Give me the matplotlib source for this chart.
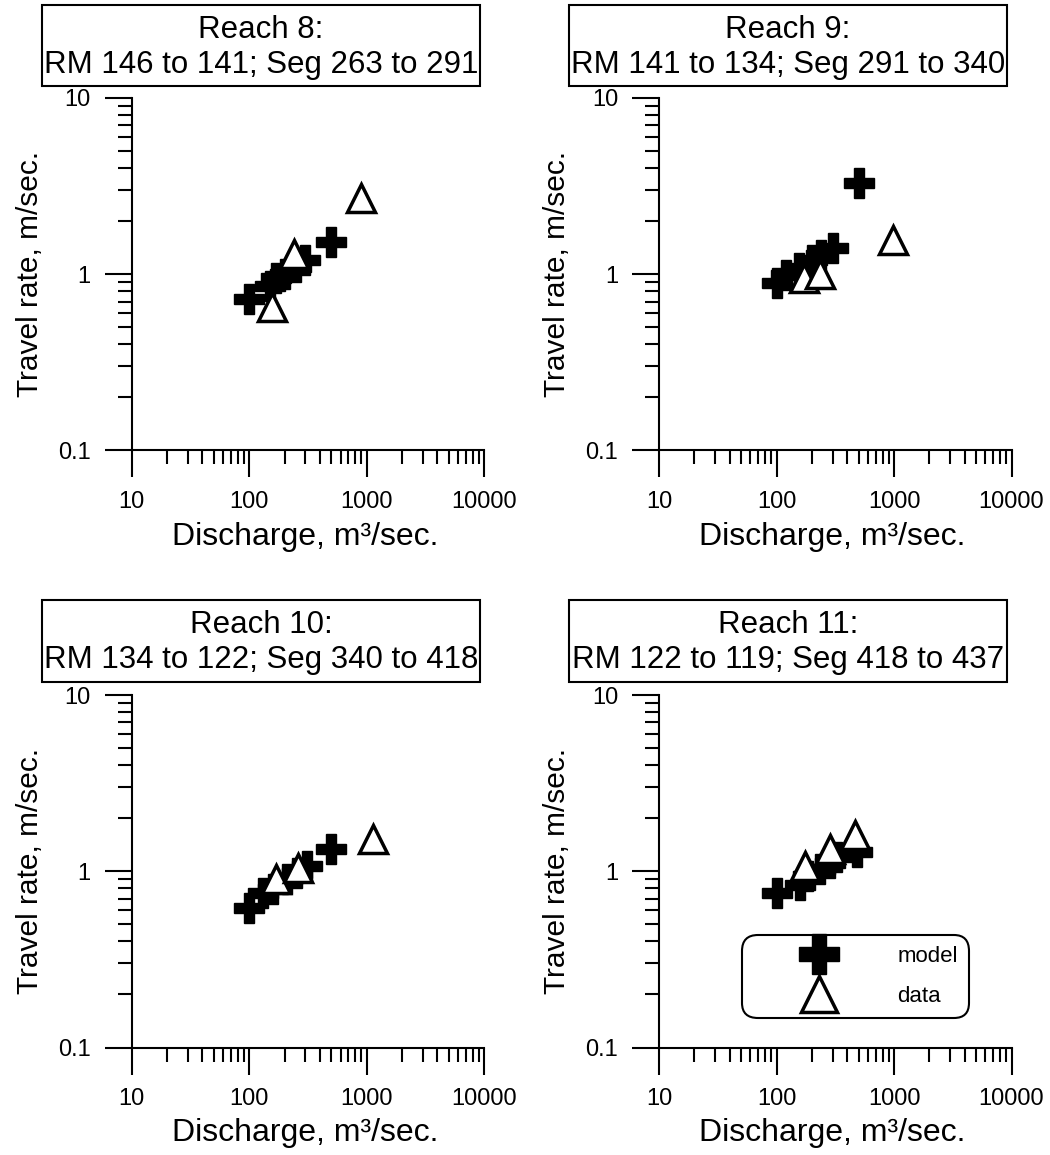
import matplotlib
matplotlib.use("Agg")
import matplotlib.pyplot as plt
from matplotlib.ticker import LogLocator, NullFormatter, FixedLocator, FixedFormatter
from matplotlib.patches import Rectangle
from matplotlib.lines import Line2D

plt.rcParams['font.family'] = ['Liberation Sans', 'DejaVu Sans']

# ---------------- data ----------------
titles = ["Reach 8:\nRM 146 to 141; Seg 263 to 291",
          "Reach 9:\nRM 141 to 134; Seg 291 to 340",
          "Reach 10:\nRM 134 to 122; Seg 340 to 418",
          "Reach 11:\nRM 122 to 119; Seg 418 to 437"]

r8_model_q = [100, 150, 170, 200, 250, 300, 500]
r8_model_v = [0.72, 0.86, 0.95, 1.0, 1.1, 1.2, 1.52]
r8_data_q = [155, 240, 900]
r8_data_v = [0.65, 1.3, 2.7]

r9_model_q = [100, 120, 155, 200, 240, 300, 500]
r9_model_v = [0.89, 0.99, 1.09, 1.2, 1.28, 1.41, 3.3]
r9_data_q = [170, 235, 990]
r9_data_v = [0.95, 1.0, 1.57]

r10_model_q = [100, 132, 160, 208, 253, 308, 500]
r10_model_v = [0.615, 0.757, 0.79, 0.9, 0.98, 1.07, 1.34]
r10_data_q = [170, 262, 1140]
r10_data_v = [0.9, 1.05, 1.52]

r11_model_q = [100, 158, 187, 234, 285, 330, 480]
r11_model_v = [0.75, 0.84, 0.94, 1.03, 1.12, 1.2, 1.28]
r11_data_q = [175, 285, 467]
r11_data_v = [1.07, 1.33, 1.6]

x_ticks = [10, 100, 1000, 10000]
x_tick_labels = ["10", "100", "1000", "10000"]
y_ticks = [0.1, 1, 10]
y_tick_labels = ["0.1", "1", "10"]

xlabel = "Discharge, m\u00b3/sec."
ylabel = "Travel rate, m/sec."

panels = [(r8_model_q, r8_model_v, r8_data_q, r8_data_v),
          (r9_model_q, r9_model_v, r9_data_q, r9_data_v),
          (r10_model_q, r10_model_v, r10_data_q, r10_data_v),
          (r11_model_q, r11_model_v, r11_data_q, r11_data_v)]

# ---------------- layout (pixels) ----------------
W, H = 1050, 1155
fig = plt.figure(figsize=(W / 100, H / 100), dpi=100)

ax_left_px = [131.7, 659.0]
ax_w_px = 352.5
ax_top_px = [98.0, 695.0]
ax_h_px = 352.5
box_x_px = [(42, 480), (569, 1007)]
box_y_px = [(5, 86), (600, 682)]

def fx(px):
    return px / W

def fy(py):
    return 1 - py / H

axes = []
for i, (mq, mv, dq, dv) in enumerate(panels):
    r, c = divmod(i, 2)
    left = ax_left_px[c]
    top = ax_top_px[r]
    ax = fig.add_axes([fx(left), fy(top + ax_h_px), ax_w_px / W, ax_h_px / H])
    axes.append(ax)
    ax.set_xscale('log')
    ax.set_yscale('log')
    ax.set_xlim(10, 10000)
    ax.set_ylim(0.1, 10)
    for s in ['top', 'right']:
        ax.spines[s].set_visible(False)
    for s in ['left', 'bottom']:
        ax.spines[s].set_linewidth(1.5)
    ax.xaxis.set_major_locator(FixedLocator(x_ticks))
    ax.xaxis.set_major_formatter(FixedFormatter(x_tick_labels))
    ax.yaxis.set_major_locator(FixedLocator(y_ticks))
    ax.yaxis.set_major_formatter(FixedFormatter(y_tick_labels))
    ax.xaxis.set_minor_locator(LogLocator(base=10, subs=range(2, 10)))
    ax.yaxis.set_minor_locator(LogLocator(base=10, subs=range(2, 10)))
    ax.xaxis.set_minor_formatter(NullFormatter())
    ax.yaxis.set_minor_formatter(NullFormatter())
    ax.tick_params(which='major', direction='out', length=19.5, width=1.5,
                   labelsize=17, color='black')
    ax.tick_params(axis='x', which='major', pad=10)
    ax.tick_params(axis='y', which='major', pad=10)
    ax.tick_params(which='minor', direction='out', length=9.8, width=1.5)

    ax.plot(mq, mv, linestyle='none', marker='P', markersize=22,
            markerfacecolor='black', markeredgecolor='black', markeredgewidth=1,
            clip_on=False, zorder=3)
    ax.plot(dq, dv, linestyle='none', marker='^', markersize=19.5,
            markerfacecolor='white', markeredgecolor='black', markeredgewidth=2.5,
            clip_on=False, zorder=4)

    # title box
    bx0, bx1 = box_x_px[c]
    by0, by1 = box_y_px[r]
    fig.patches.append(Rectangle((fx(bx0), fy(by1)), (bx1 - bx0) / W, (by1 - by0) / H,
                                 transform=fig.transFigure, fill=False,
                                 edgecolor='black', linewidth=1.5))
    line1, line2 = titles[i].split("\n")
    cx = (bx0 + bx1) / 2
    fig.text(fx(cx), fy(by0 + 33), line1, ha='center', va='baseline', fontsize=22.5)
    fig.text(fx(cx), fy(by0 + 68), line2, ha='center', va='baseline', fontsize=22.5)

    # axis labels
    fig.text(fx(left + ax_w_px / 2 - 3), fy(top + ax_h_px + 86), xlabel,
             ha='center', va='center', fontsize=23)
    fig.text(fx(left - 102), fy(top + ax_h_px / 2), ylabel,
             ha='center', va='center', rotation=90, fontsize=21.5)

# legend in last panel
handles = [Line2D([], [], linestyle='none', marker='P', markersize=29,
                  markerfacecolor='black', markeredgecolor='black', markeredgewidth=1),
           Line2D([], [], linestyle='none', marker='^', markersize=26,
                  markerfacecolor='white', markeredgecolor='black', markeredgewidth=2.5)]
leg = axes[3].legend(handles, ["model", "data"], loc='upper left',
                     bbox_to_anchor=(fx(742), fy(935)), bbox_transform=fig.transFigure,
                     borderaxespad=0, fontsize=16, handlelength=5.9,
                     handletextpad=0.6, borderpad=0.5, labelspacing=0.85,
                     fancybox=True, framealpha=1, edgecolor='black')
leg.get_frame().set_linewidth(1.5)
leg.get_frame().set_boxstyle('round,pad=0,rounding_size=0.7')

fig.savefig("out.png", dpi=100)
